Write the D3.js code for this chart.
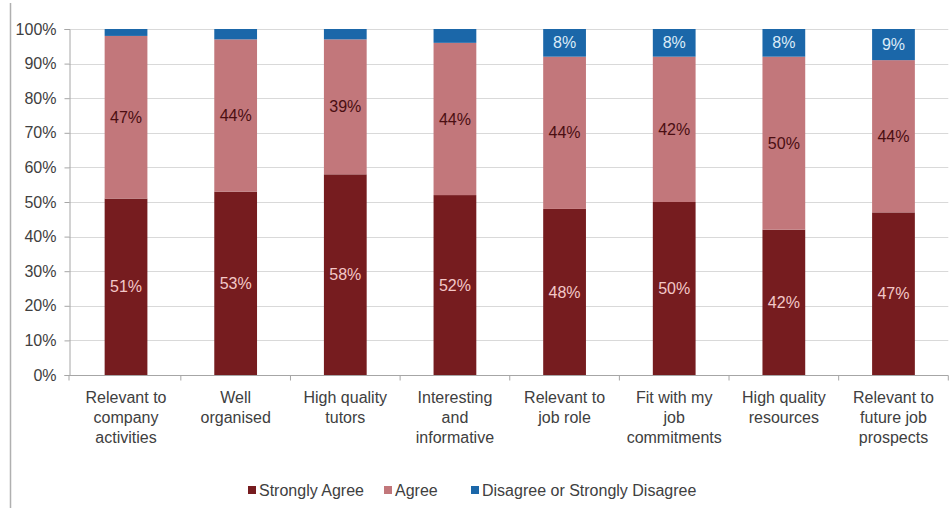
<!DOCTYPE html>
<html>
<head>
<meta charset="utf-8">
<script src="https://cdn.jsdelivr.net/npm/d3@7"></script>
<style>
  html, body { margin: 0; padding: 0; background: #fff; }
  svg { display: block; font-family: "Liberation Sans", Arial, sans-serif; }
</style>
</head>
<body>
<svg id="chart" width="952" height="508"></svg>
<script>
const categories = [
  ["Relevant to", "company", "activities"],
  ["Well", "organised"],
  ["High quality", "tutors"],
  ["Interesting", "and", "informative"],
  ["Relevant to", "job role"],
  ["Fit with my", "job", "commitments"],
  ["High quality", "resources"],
  ["Relevant to", "future job", "prospects"]
];
const seriesNames = ["Strongly Agree", "Agree", "Disagree or Strongly Disagree"];
const stronglyAgree = [51, 53, 58, 52, 48, 50, 42, 47];
const agree = [47, 44, 39, 44, 44, 42, 50, 44];
const disagree = [2, 3, 3, 4, 8, 8, 8, 9];
const yTicks = [0, 10, 20, 30, 40, 50, 60, 70, 80, 90, 100];

(function () {
const colors = ["#761c1f", "#c2777b", "#1b67a9"];
const labelColors = ["#f3c8c8", "#4a0e12", "#dcecf8"];
const showThreshold = 5;

const svg = d3.select("#chart");
const W = 952, H = 508;
const axisLeftX = 69, bandL = 71.2, mRight = 948.3, mTop = 29, mBottom = 375;

svg.append("line").attr("x1", 10.5).attr("x2", 10.5).attr("y1", 3).attr("y2", H)
  .attr("stroke", "#b0b0b0").attr("stroke-width", 1.5);

const keys = categories.map((c, i) => i);
const x = d3.scaleBand().domain(keys).range([bandL, mRight]).paddingInner(0.61).paddingOuter(0.305);
const y = d3.scaleLinear().domain([0, 100]).range([mBottom, mTop]);

svg.append("g").selectAll("line").data(yTicks.filter(d => d > 0)).join("line")
  .attr("x1", axisLeftX).attr("x2", mRight)
  .attr("y1", d => Math.round(y(d)) + 0.5).attr("y2", d => Math.round(y(d)) + 0.5)
  .attr("stroke", "#d9d9d9").attr("stroke-width", 1);

const yAxis = d3.axisLeft(y).tickValues(yTicks).tickFormat(d => d + "%").tickSize(5).tickPadding(8);
const gy = svg.append("g").attr("transform", `translate(${axisLeftX + 0.5},0)`).call(yAxis);
gy.select(".domain").attr("stroke", "#a6a6a6");
gy.selectAll(".tick line").attr("stroke", "#a6a6a6");
gy.selectAll(".tick text").attr("fill", "#404040").style("font-size", "16px")
  .style("font-family", "Liberation Sans, Arial, sans-serif");

const rows = keys.map(i => ({ i, s0: stronglyAgree[i], s1: agree[i], s2: disagree[i] }));
const stacked = d3.stack().keys(["s0", "s1", "s2"])(rows);

const gBars = svg.append("g");
stacked.forEach((layer, li) => {
  gBars.append("g").attr("fill", colors[li]).selectAll("rect").data(layer).join("rect")
    .attr("x", d => x(d.data.i))
    .attr("width", x.bandwidth())
    .attr("y", d => y(d[1]))
    .attr("height", d => y(d[0]) - y(d[1]));
});

const gLabels = svg.append("g").style("font-size", "16px").attr("text-anchor", "middle");
stacked.forEach((layer, li) => {
  gLabels.append("g").selectAll("text").data(layer.filter(d => d[1] - d[0] >= showThreshold)).join("text")
    .attr("x", d => x(d.data.i) + x.bandwidth() / 2)
    .attr("y", d => y((d[0] + d[1]) / 2))
    .attr("dy", "0.35em")
    .attr("fill", labelColors[li])
    .text(d => Math.round(d[1] - d[0]) + "%");
});

const gx = svg.append("g").attr("transform", `translate(0,${mBottom + 0.5})`);
gx.append("line").attr("x1", axisLeftX).attr("x2", mRight).attr("stroke", "#a6a6a6");
const boundaries = [axisLeftX].concat(keys.slice(1).map(i => x(i) - x.step() * x.paddingInner() / 2)).concat([mRight]);
gx.selectAll("line.tk").data(boundaries).join("line").attr("class", "tk")
  .attr("x1", d => d).attr("x2", d => d).attr("y1", 0).attr("y2", 5)
  .attr("stroke", "#a6a6a6");
const gxl = svg.append("g").style("font-size", "16px").attr("fill", "#404040").attr("text-anchor", "middle");
keys.forEach(i => {
  const t = gxl.append("text").attr("x", x(i) + x.bandwidth() / 2).attr("y", 403);
  categories[i].forEach((line, k) => {
    t.append("tspan").attr("x", x(i) + x.bandwidth() / 2).attr("dy", k === 0 ? 0 : 20).text(line);
  });
});

const legendX = [248, 384, 471];
const lg = svg.append("g").style("font-size", "16px").attr("fill", "#404040");
seriesNames.forEach((name, i) => {
  lg.append("rect").attr("x", legendX[i]).attr("y", 486).attr("width", 8).attr("height", 8).attr("fill", colors[i]);
  lg.append("text").attr("x", legendX[i] + 11).attr("y", 490).attr("dy", "0.35em").text(name);
});
})();
</script>
</body>
</html>
